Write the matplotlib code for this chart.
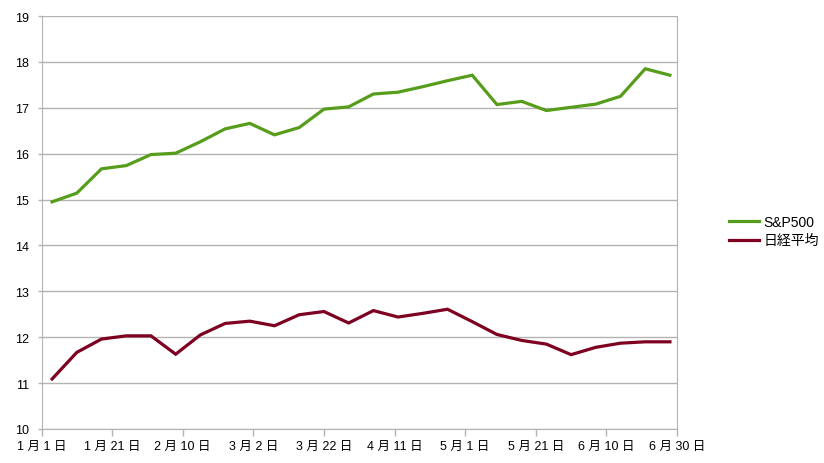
import matplotlib
matplotlib.use("Agg")
import matplotlib.pyplot as plt

plt.rcParams["font.family"] = ["Liberation Sans", "Noto Sans CJK JP", "DejaVu Sans"]

# weekly points, day offset from Jan 1
days = [3 + 7 * i for i in range(26)]
sp500 = [14.95, 15.14, 15.67, 15.74, 15.98, 16.01, 16.26, 16.54, 16.66, 16.41,
         16.57, 16.97, 17.02, 17.30, 17.34, 17.46, 17.59, 17.71, 17.07, 17.14,
         16.94, 17.01, 17.08, 17.25, 17.85, 17.71]
nikkei = [11.09, 11.67, 11.96, 12.03, 12.03, 11.63, 12.05, 12.30, 12.35, 12.25,
          12.49, 12.56, 12.31, 12.58, 12.44, 12.52, 12.61, 12.34, 12.06, 11.93,
          11.85, 11.62, 11.78, 11.87, 11.90, 11.90]
series_names = ["S&P500", "日経平均"]

tick_days = list(range(0, 181, 20))
tick_labels = ["1 月 1 日", "1 月 21 日", "2 月 10 日", "3 月 2 日", "3 月 22 日",
               "4 月 11 日", "5 月 1 日", "5 月 21 日", "6 月 10 日", "6 月 30 日"]

grid_col = "#b3b3b3"

fig = plt.figure(figsize=(8.24, 4.64), dpi=100)
ax = fig.add_axes([41.5 / 824, 1 - 430 / 464, (677 - 41.5) / 824, (430 - 17) / 464])

ax.plot(days, sp500, color="#579d1c", lw=2.3, label=series_names[0], solid_joinstyle="miter")
ax.plot(days, nikkei, color="#7e0021", lw=2.3, label=series_names[1], solid_joinstyle="miter")

ax.set_xlim(0, 180)
ax.set_ylim(10, 19)
ax.set_yticks(range(10, 20))
ax.set_xticks(tick_days)
ax.set_xticklabels(tick_labels)
ax.grid(axis="y", color=grid_col, lw=1)
ax.set_axisbelow(True)
for s in ax.spines.values():
    s.set_color(grid_col)
ax.spines["top"].set_visible(False)
ax.tick_params(axis="both", colors=grid_col, labelcolor="#000000", labelsize=9, width=1)
ax.tick_params(axis="x", length=5, pad=3)
ax.tick_params(axis="y", length=3, pad=6)

leg = ax.legend(loc="center left", bbox_to_anchor=(716 / 824, 1 - 232 / 464),
                bbox_transform=fig.transFigure, frameon=False, fontsize=10,
                handlelength=2.2, handletextpad=0.3, labelspacing=0.35)

fig.savefig("out.png", dpi=100)
